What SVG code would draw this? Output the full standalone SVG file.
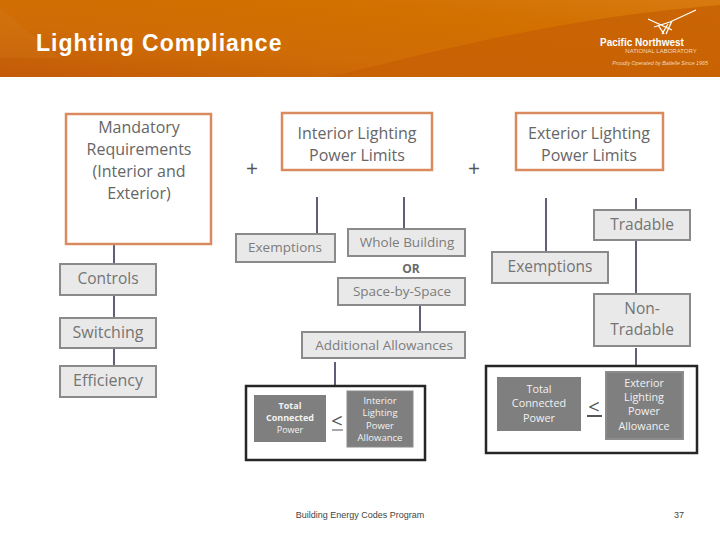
<svg xmlns="http://www.w3.org/2000/svg" width="720" height="540" viewBox="0 0 720 540">
<style>
.o{fill:#fff;stroke:#d98a5e;stroke-width:2.5}
.g{fill:#e9e9e9;stroke:#8a8a8a;stroke-width:2}
.d{fill:#7f7f7f}
.b{fill:#fff;stroke:#262626;stroke-width:2.5}
.c line{stroke:#5f5f78;stroke-width:2}
text{font-family:"Open Sans","Liberation Sans",sans-serif;text-anchor:middle}
.t{font-size:15.5px;fill:#747474}
.s{font-size:13.5px;fill:#7c7c7c}
.h{font-size:16px;fill:#666;font-weight:500}
.w{font-size:9.5px;fill:#f2f2f2}
.x{font-size:10.8px;fill:#f2f2f2;font-weight:500}
.a{font-family:"Liberation Sans",sans-serif}
</style>
<defs>
<linearGradient id="bg" x1="0" y1="1" x2="1" y2="0">
<stop offset="0" stop-color="#c25a08"/><stop offset=".35" stop-color="#cf6c06"/><stop offset=".7" stop-color="#d27000"/><stop offset="1" stop-color="#d77a10"/>
</linearGradient>
</defs>
<g id="header">
<rect width="720" height="77" fill="url(#bg)"/>
<path d="M330 77C440 50 560 18 720 5V77Z" fill="#c65f04" opacity=".75"/>
<path d="M0 8L60 58L0 58Z" fill="#d9812a" opacity=".2"/>
<text class="a" x="36" y="51" style="text-anchor:start;font-size:23px;font-weight:bold;fill:#fff;letter-spacing:1px">Lighting Compliance</text>
</g>
<g id="logo">
<path d="M648 19L672 30M654 27L670 22L696 10M658 25L664 34M668 24L662 34M672 21L666 34" stroke="#fff" stroke-width="1.3" fill="none"/>
<text class="a" x="642" y="46" style="font-size:10px;font-weight:bold;fill:#fff">Pacific Northwest</text>
<text class="a" x="661" y="53" style="font-size:6px;fill:#f3d9b8">NATIONAL LABORATORY</text>
<text class="a" x="660" y="65" style="font-size:5.3px;font-style:italic;fill:#f3d9b8">Proudly Operated by Battelle Since 1965</text>
</g>
<g class="c" id="connectors">
<line x1="114" y1="245" x2="114" y2="264"/><line x1="114" y1="295" x2="114" y2="318"/><line x1="114" y1="348" x2="114" y2="366"/>
<line x1="317" y1="197" x2="317" y2="233"/><line x1="404" y1="197" x2="404" y2="229"/><line x1="420" y1="305" x2="420" y2="332"/><line x1="335" y1="362" x2="335" y2="386"/>
<line x1="546" y1="198" x2="546" y2="252"/><line x1="636" y1="198" x2="636" y2="210"/><line x1="636" y1="240" x2="636" y2="294"/><line x1="636" y1="348" x2="636" y2="367"/>
</g>
<g id="mandatory"><rect class="o" x="66" y="114" width="145" height="130"/>
<text class="h" x="139" y="133">Mandatory</text><text class="h" x="139" y="155">Requirements</text><text class="h" x="139" y="177">(Interior and</text><text class="h" x="139" y="199">Exterior)</text></g>
<g id="plus1"><text x="252" y="176" style="font-size:21px;fill:#555">+</text></g>
<g id="interior"><rect class="o" x="282" y="113" width="150" height="57"/>
<text class="h" x="357" y="139">Interior Lighting</text><text class="h" x="357" y="161">Power Limits</text></g>
<g id="plus2"><text x="474" y="176" style="font-size:21px;fill:#555">+</text></g>
<g id="exterior"><rect class="o" x="516" y="113" width="147" height="57"/>
<text class="h" x="589" y="139">Exterior Lighting</text><text class="h" x="589" y="161">Power Limits</text></g>
<g id="controls"><rect class="g" x="60" y="264" width="96" height="31"/><text class="t" x="108" y="284">Controls</text></g>
<g id="switching"><rect class="g" x="60" y="318" width="96" height="30"/><text class="t" x="108" y="338" style="font-size:16px">Switching</text></g>
<g id="efficiency"><rect class="g" x="60" y="366" width="96" height="31"/><text class="t" x="108" y="386" style="font-size:16px">Efficiency</text></g>
<g id="int-exemptions"><rect class="g" x="236" y="234" width="99" height="28"/><text class="s" x="285" y="252">Exemptions</text></g>
<g id="whole"><rect class="g" x="348" y="229" width="117" height="27"/><text class="s" x="407" y="247">Whole Building</text></g>
<g id="or"><text x="411" y="273" style="font-size:12px;font-weight:bold;fill:#6a6a6a">OR</text></g>
<g id="space"><rect class="g" x="338" y="278" width="127" height="27"/><text class="s" x="402" y="296">Space-by-Space</text></g>
<g id="additional"><rect class="g" x="302" y="332" width="163" height="26"/><text class="s" x="384" y="350">Additional Allowances</text></g>
<g id="int-box"><rect class="b" x="246" y="386" width="179" height="74"/></g>
<g id="int-total"><rect class="d" x="254" y="395" width="72" height="47"/><text class="w" style="font-weight:bold;font-size:9px" x="290" y="409">Total</text><text class="w" style="font-weight:bold;font-size:9px" x="290" y="421">Connected</text><text class="w" style="font-size:9px" x="290" y="433">Power</text></g>
<g id="int-le"><text x="337" y="428" style="font-size:20px;fill:#555">&lt;</text><line x1="332" y1="430" x2="343" y2="430" stroke="#555" stroke-width="1"/></g>
<g id="int-allow"><rect class="d" x="347" y="391" width="66" height="56" stroke="#8c8c8c"/><text class="w" x="380" y="404">Interior</text><text class="w" x="380" y="416">Lighting</text><text class="w" x="380" y="429">Power</text><text class="w" x="380" y="441">Allowance</text></g>
<g id="tradable"><rect class="g" x="594" y="210" width="96" height="30"/><text class="t" x="642" y="230">Tradable</text></g>
<g id="ext-exemptions"><rect class="g" x="492" y="252" width="116" height="31"/><text class="t" x="550" y="272">Exemptions</text></g>
<g id="nontradable"><rect class="g" x="594" y="294" width="96" height="52"/><text class="t" x="642" y="314">Non-</text><text class="t" x="642" y="335">Tradable</text></g>
<g id="ext-box"><rect class="b" x="486" y="366" width="211" height="87"/></g>
<g id="ext-total"><rect class="d" x="497" y="377" width="84" height="54"/><text class="x" x="539" y="393">Total</text><text class="x" x="539" y="407">Connected</text><text class="x" x="539" y="422">Power</text></g>
<g id="ext-le"><text x="594" y="414" style="font-size:20px;fill:#555">&lt;</text><line x1="587" y1="416" x2="602" y2="416" stroke="#555" stroke-width="2"/></g>
<g id="ext-allow"><rect class="d" x="606" y="372" width="77" height="67" stroke="#8c8c8c" stroke-width="2"/><text class="x" x="644" y="387">Exterior</text><text class="x" x="644" y="401">Lighting</text><text class="x" x="644" y="415">Power</text><text class="x" x="644" y="430">Allowance</text></g>
<g id="footer"><text class="a" x="360" y="518" style="font-size:9px;fill:#444">Building Energy Codes Program</text><text class="a" x="679" y="518" style="font-size:9px;fill:#444">37</text></g>
</svg>
